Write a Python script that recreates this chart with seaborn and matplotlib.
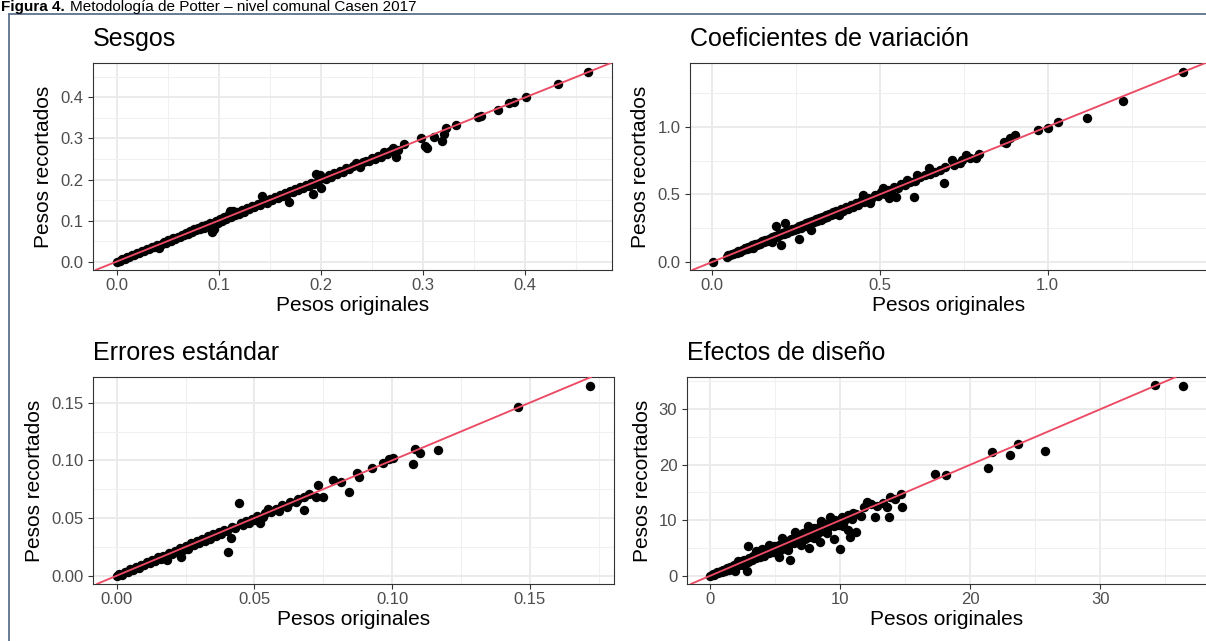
import matplotlib
matplotlib.use("Agg")
import matplotlib.pyplot as plt
import seaborn as sns
from matplotlib.ticker import MultipleLocator, FixedLocator, FormatStrFormatter
from matplotlib.lines import Line2D

# ---------------- data ----------------
sesgos_x = [0.000, 0.003, 0.005, 0.008, 0.010, 0.012, 0.015, 0.017, 0.020, 0.022, 0.025, 0.027,
            0.030, 0.032, 0.035, 0.037, 0.040, 0.042, 0.044, 0.046, 0.048, 0.050, 0.053, 0.055,
            0.057, 0.060, 0.062, 0.064, 0.066, 0.068, 0.070, 0.072, 0.074, 0.076, 0.078, 0.080,
            0.082, 0.084, 0.086, 0.088, 0.090, 0.091, 0.093, 0.093, 0.095, 0.097, 0.099, 0.101,
            0.103, 0.105, 0.107, 0.110, 0.111, 0.112, 0.114, 0.116, 0.118, 0.120, 0.123, 0.125,
            0.128, 0.130, 0.133, 0.135, 0.138, 0.140, 0.142, 0.144, 0.147, 0.150, 0.152, 0.155,
            0.158, 0.160, 0.163, 0.165, 0.167, 0.169, 0.170, 0.173, 0.175, 0.178, 0.180, 0.183,
            0.185, 0.188, 0.190, 0.192, 0.193, 0.195, 0.197, 0.199, 0.200, 0.202, 0.205, 0.208,
            0.210, 0.213, 0.216, 0.219, 0.222, 0.225, 0.228, 0.231, 0.234, 0.237, 0.238, 0.241,
            0.244, 0.247, 0.250, 0.253, 0.256, 0.259, 0.262, 0.265, 0.268, 0.271, 0.273, 0.274,
            0.276, 0.281, 0.298, 0.302, 0.304, 0.311, 0.319, 0.321, 0.323, 0.332, 0.354, 0.357,
            0.373, 0.384, 0.389, 0.401, 0.432, 0.462]
sesgos_y = [0.000, 0.002, 0.006, 0.007, 0.011, 0.010, 0.016, 0.015, 0.021, 0.020, 0.026, 0.025,
            0.031, 0.030, 0.036, 0.035, 0.041, 0.033, 0.043, 0.047, 0.046, 0.052, 0.051, 0.057,
            0.055, 0.061, 0.059, 0.066, 0.064, 0.070, 0.068, 0.074, 0.071, 0.079, 0.076, 0.081,
            0.079, 0.086, 0.083, 0.090, 0.086, 0.094, 0.085, 0.073, 0.080, 0.099, 0.095, 0.104,
            0.100, 0.108, 0.104, 0.116, 0.124, 0.109, 0.124, 0.113, 0.120, 0.117, 0.126, 0.122,
            0.130, 0.128, 0.135, 0.132, 0.140, 0.138, 0.160, 0.146, 0.144, 0.152, 0.149, 0.158,
            0.155, 0.163, 0.160, 0.167, 0.164, 0.146, 0.172, 0.170, 0.177, 0.175, 0.182, 0.180,
            0.187, 0.185, 0.192, 0.164, 0.190, 0.214, 0.196, 0.212, 0.180, 0.204, 0.202, 0.210,
            0.207, 0.215, 0.213, 0.221, 0.219, 0.227, 0.225, 0.233, 0.240, 0.235, 0.231, 0.242,
            0.246, 0.245, 0.252, 0.251, 0.258, 0.256, 0.266, 0.262, 0.270, 0.278, 0.268, 0.256,
            0.272, 0.286, 0.300, 0.282, 0.278, 0.304, 0.294, 0.310, 0.325, 0.333, 0.352, 0.354,
            0.370, 0.386, 0.390, 0.401, 0.432, 0.462]

cv_x = [0.005, 0.045, 0.050, 0.055, 0.060, 0.065, 0.070, 0.075, 0.080, 0.085, 0.090, 0.095,
        0.100, 0.105, 0.110, 0.115, 0.120, 0.123, 0.125, 0.130, 0.135, 0.140, 0.145, 0.150,
        0.155, 0.160, 0.165, 0.170, 0.175, 0.180, 0.181, 0.185, 0.190, 0.192, 0.195, 0.200,
        0.205, 0.207, 0.210, 0.215, 0.219, 0.220, 0.225, 0.230, 0.235, 0.240, 0.245, 0.250,
        0.255, 0.259, 0.260, 0.265, 0.270, 0.275, 0.280, 0.285, 0.290, 0.290, 0.296, 0.300,
        0.305, 0.310, 0.315, 0.320, 0.325, 0.330, 0.335, 0.340, 0.345, 0.350, 0.355, 0.360,
        0.365, 0.370, 0.375, 0.380, 0.385, 0.390, 0.400, 0.405, 0.415, 0.420, 0.430, 0.435,
        0.445, 0.451, 0.455, 0.465, 0.472, 0.475, 0.485, 0.495, 0.505, 0.509, 0.515, 0.525,
        0.529, 0.535, 0.543, 0.549, 0.555, 0.565, 0.575, 0.583, 0.590, 0.603, 0.605, 0.612,
        0.620, 0.635, 0.647, 0.650, 0.665, 0.680, 0.693, 0.695, 0.716, 0.720, 0.739, 0.745,
        0.756, 0.770, 0.787, 0.795, 0.871, 0.877, 0.888, 0.902, 0.972, 1.001, 1.032, 1.118,
        1.224, 1.404]
cv_y = [0.005, 0.040, 0.055, 0.050, 0.062, 0.060, 0.072, 0.068, 0.083, 0.078, 0.092, 0.088,
        0.104, 0.098, 0.112, 0.106, 0.124, 0.103, 0.118, 0.133, 0.128, 0.145, 0.138, 0.154,
        0.147, 0.165, 0.158, 0.174, 0.168, 0.185, 0.152, 0.178, 0.196, 0.268, 0.187, 0.205,
        0.198, 0.128, 0.215, 0.208, 0.292, 0.226, 0.218, 0.236, 0.227, 0.246, 0.237, 0.256,
        0.246, 0.172, 0.266, 0.255, 0.276, 0.266, 0.287, 0.275, 0.263, 0.297, 0.238, 0.306,
        0.295, 0.316, 0.306, 0.326, 0.315, 0.337, 0.325, 0.347, 0.335, 0.357, 0.345, 0.368,
        0.355, 0.377, 0.365, 0.349, 0.393, 0.380, 0.408, 0.395, 0.424, 0.410, 0.438, 0.425,
        0.455, 0.496, 0.445, 0.475, 0.435, 0.465, 0.493, 0.485, 0.515, 0.546, 0.505, 0.535,
        0.472, 0.527, 0.558, 0.484, 0.548, 0.575, 0.566, 0.607, 0.595, 0.484, 0.600, 0.644,
        0.625, 0.640, 0.693, 0.648, 0.668, 0.683, 0.583, 0.700, 0.754, 0.720, 0.730, 0.752,
        0.791, 0.772, 0.767, 0.800, 0.889, 0.877, 0.914, 0.939, 0.975, 0.988, 1.037, 1.062,
        1.190, 1.405]

ee_x = [0.000, 0.001, 0.002, 0.003, 0.004, 0.005, 0.006, 0.007, 0.008, 0.009, 0.010, 0.011,
        0.012, 0.013, 0.014, 0.015, 0.016, 0.017, 0.018, 0.0184, 0.019, 0.020, 0.021, 0.022,
        0.023, 0.0234, 0.024, 0.025, 0.026, 0.027, 0.028, 0.029, 0.030, 0.031, 0.032, 0.033,
        0.034, 0.035, 0.036, 0.037, 0.038, 0.039, 0.040, 0.0404, 0.0414, 0.042, 0.043, 0.0443,
        0.045, 0.046, 0.047, 0.048, 0.049, 0.050, 0.051, 0.0522, 0.053, 0.054, 0.055, 0.056,
        0.058, 0.059, 0.060, 0.062, 0.063, 0.065, 0.066, 0.068, 0.068, 0.070, 0.0723, 0.073,
        0.0751, 0.0785, 0.0816, 0.0842, 0.0871, 0.0881, 0.0927, 0.0966, 0.0988, 0.1003, 0.1075,
        0.1082, 0.110, 0.1168, 0.1458, 0.1718]
ee_y = [0.000, 0.0015, 0.001, 0.0035, 0.003, 0.0055, 0.005, 0.0075, 0.007, 0.0095, 0.009, 0.0115,
        0.011, 0.0135, 0.013, 0.016, 0.0145, 0.0175, 0.0165, 0.0136, 0.0195, 0.0185, 0.0215, 0.0205,
        0.024, 0.0165, 0.022, 0.0255, 0.0235, 0.028, 0.0265, 0.030, 0.028, 0.032, 0.0305, 0.034,
        0.032, 0.0365, 0.0345, 0.038, 0.036, 0.040, 0.0385, 0.0208, 0.0324, 0.0425, 0.041, 0.0628,
        0.0455, 0.044, 0.0475, 0.046, 0.0495, 0.048, 0.052, 0.0454, 0.0505, 0.0545, 0.058, 0.0555,
        0.0575, 0.056, 0.061, 0.060, 0.0635, 0.064, 0.0665, 0.057, 0.068, 0.0705, 0.0685, 0.0787,
        0.0685, 0.083, 0.0815, 0.0729, 0.0888, 0.0859, 0.0937, 0.0975, 0.101, 0.1018, 0.0966,
        0.1096, 0.1067, 0.109, 0.146, 0.1648]

ed_x = [0.0, 0.2, 0.3, 0.5, 0.6, 0.8, 0.9, 1.0, 1.1, 1.3, 1.4, 1.5, 1.6, 1.8, 1.9, 2.0, 2.1, 2.2,
        2.4, 2.5, 2.6, 2.82, 2.88, 2.9, 3.0, 3.2, 3.3, 3.5, 3.6, 3.8, 3.9, 4.0, 4.1, 4.3, 4.5,
        4.6, 4.8, 4.9, 5.0, 5.25, 5.3, 5.5, 5.6, 5.8, 5.9, 6.0, 6.14, 6.2, 6.4, 6.5, 6.7, 6.8,
        7.0, 7.1, 7.3, 7.4, 7.62, 7.6, 7.7, 7.9, 8.0, 8.2, 8.37, 8.4, 8.46, 8.6, 8.8, 9.0, 9.2,
        9.49, 9.5, 9.6, 9.8, 10.0, 10.1, 10.3, 10.59, 10.6, 10.74, 10.9, 11.18, 11.2, 11.6,
        11.78, 12.07, 12.37, 12.67, 12.8, 13.3, 13.55, 13.7, 13.85, 14.2, 14.68, 14.74, 17.27,
        18.1, 21.36, 21.63, 23.05, 23.64, 25.72, 34.18, 36.34,
        3.5, 4.5, 5.2, 5.5, 6.0, 6.5, 7.0, 7.5, 8.0, 8.5, 9.0, 9.2, 10.2, 11.0]
ed_y = [0.0, 0.3, 0.1, 0.6, 0.4, 0.9, 0.6, 1.1, 0.8, 1.4, 1.0, 1.6, 1.3, 2.0, 0.8, 1.7, 2.7, 1.9,
        2.6, 2.0, 2.9, 0.9, 5.35, 2.5, 3.2, 2.8, 3.6, 3.1, 3.9, 3.3, 4.2, 4.8, 3.6, 4.5, 4.0,
        5.0, 4.3, 5.4, 4.5, 3.4, 5.6, 4.8, 6.0, 5.2, 6.3, 5.4, 2.8, 6.6, 5.8, 6.9, 6.0, 7.2,
        6.3, 7.6, 6.6, 8.0, 4.93, 6.9, 8.4, 7.2, 8.6, 7.5, 7.9, 8.9, 6.1, 8.0, 9.3, 8.5, 9.6,
        6.55, 8.9, 10.0, 9.2, 4.8, 10.5, 9.8, 8.2, 10.9, 7.0, 10.3, 7.9, 11.2, 10.8,
        12.4, 13.3, 13.0, 10.6, 12.6, 13.1, 12.4, 10.6, 14.2, 13.8, 14.8, 12.3, 18.4,
        18.1, 19.4, 22.3, 21.7, 23.7, 22.5, 34.3, 34.14,
        4.5, 5.5, 3.9, 6.8, 4.6, 7.8, 5.6, 8.9, 6.8, 9.8, 7.6, 10.5, 9.0, 11.3]

titles = ["Sesgos", "Coeficientes de variación", "Errores estándar", "Efectos de diseño"]
major_ticks = [[0.0, 0.1, 0.2, 0.3, 0.4], [0.0, 0.5, 1.0], [0.00, 0.05, 0.10, 0.15], [0, 10, 20, 30]]
tick_fmt = ["%.1f", "%.1f", "%.2f", "%.0f"]
minor_step = [0.05, 0.25, 0.025, 5]
x_label = "Pesos originales"
y_label = "Pesos recortados"
fig_title_bold = "Figura 4."
fig_title_rest = "Metodología de Potter – nivel comunal Casen 2017"

# ---------------- styling ----------------
sns.set_theme(style="white")
plt.rcParams['font.family'] = ['Liberation Sans', 'DejaVu Sans']

W, H = 1206, 641
fig = plt.figure(figsize=(W / 100, H / 100), dpi=100)


def box(l, t, r, b):
    return [l / W, 1 - b / H, (r - l) / W, (b - t) / H]


rects = [box(93, 63, 612, 270), box(690, 63, 1207, 270),
         box(93, 377, 614, 584), box(687, 377, 1207, 584)]
xlims = [(-0.0231, 0.4851), (-0.064, 1.474), (-0.0086, 0.1806), (-1.80, 38.2)]
ylims = [(-0.0205, 0.484), (-0.057, 1.469), (-0.0072, 0.1723), (-1.5, 35.8)]
data = [(sesgos_x, sesgos_y), (cv_x, cv_y), (ee_x, ee_y), (ed_x, ed_y)]

LINE_COLOR = "#EB4A63"
for i in range(4):
    ax = fig.add_axes(rects[i])
    xs, ys = data[i]
    sns.scatterplot(x=xs, y=ys, ax=ax, color="black", s=46, linewidth=0,
                    legend=False, zorder=2)
    ax.axline((0, 0), slope=1, color=LINE_COLOR, lw=1.35, zorder=3)
    ax.set_xlim(*xlims[i])
    ax.set_ylim(*ylims[i])
    for axis in (ax.xaxis, ax.yaxis):
        axis.set_major_locator(FixedLocator(major_ticks[i]))
        axis.set_major_formatter(FormatStrFormatter(tick_fmt[i]))
        axis.set_minor_locator(MultipleLocator(minor_step[i]))
    ax.grid(which="major", color="#EBEBEB", lw=1.4, zorder=0)
    ax.grid(which="minor", color="#F0F0F0", lw=0.8, zorder=0)
    ax.set_axisbelow(True)
    for sp in ax.spines.values():
        sp.set_color("#333333")
        sp.set_linewidth(0.8)
    ax.tick_params(which="major", direction="out", length=3.5, width=0.8,
                   color="#333333", labelcolor="#4D4D4D", labelsize=12,
                   bottom=True, left=True)
    ax.tick_params(axis="x", pad=2.2)
    ax.tick_params(axis="y", pad=3.5)
    ax.tick_params(which="minor", length=0)
    ax.set_xlabel(x_label, fontsize=15, color="black", labelpad=2)
    ax.set_ylabel(y_label, fontsize=15, color="black", labelpad=5)
    ax.set_title(titles[i], loc="left", fontsize=18, color="black", pad=12)

# figure frame (top and left edges visible)
frame_color = "#5E718C"
fig.add_artist(Line2D([9 / W, 1.0], [1 - 14 / H, 1 - 14 / H], color=frame_color, lw=1.3,
                      transform=fig.transFigure))
fig.add_artist(Line2D([9 / W, 9 / W], [1 - 14 / H, 0.0], color=frame_color, lw=1.3,
                      transform=fig.transFigure))

# caption at the very top
t1 = fig.text(1 / W, 1 - 11.5 / H, fig_title_bold, fontsize=11, fontweight="bold",
              ha="left", va="baseline", color="black")
fig.canvas.draw()
bb = t1.get_window_extent(renderer=fig.canvas.get_renderer())
fig.text((bb.x1 + 5) / W, 1 - 11.5 / H, fig_title_rest, fontsize=11,
         ha="left", va="baseline", color="black")

fig.savefig("out.png", dpi=100)
